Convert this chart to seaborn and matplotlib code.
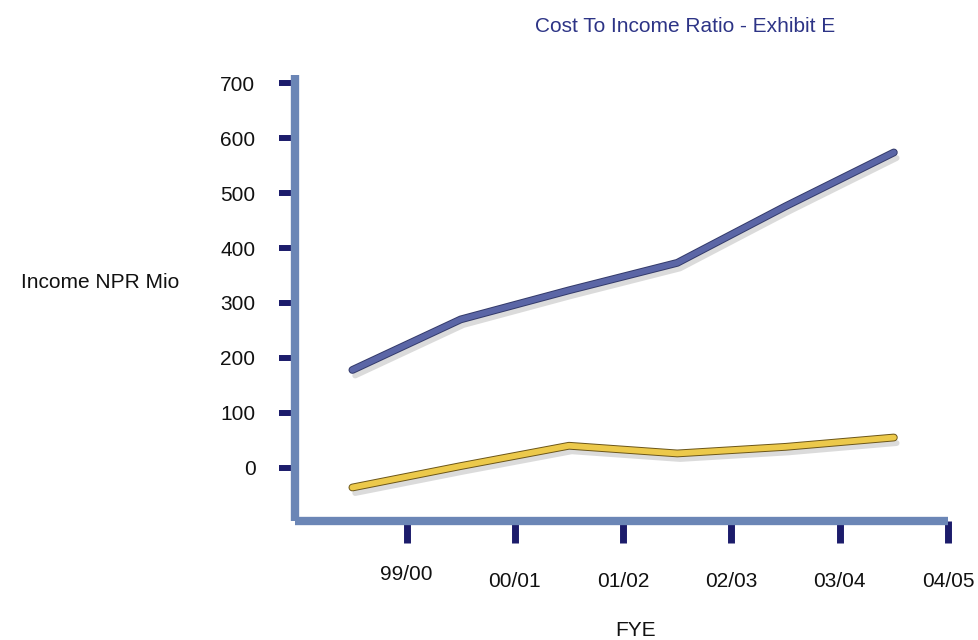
import matplotlib
matplotlib.use("Agg")
import matplotlib.pyplot as plt
import matplotlib.patheffects as pe
import seaborn as sns
import pandas as pd
import numpy as np

# ---- data ----
years = ["99/00", "00/01", "01/02", "02/03", "03/04", "04/05"]
income = [178, 270, 323, 373, 476, 574]
cost_series = [-36, 3, 40, 26, 38, 55]
yticks = [0, 100, 200, 300, 400, 500, 600, 700]

sns.set_theme(style="white")
plt.rcParams['font.family'] = ['Liberation Sans', 'DejaVu Sans']

fig = plt.figure(figsize=(9.79, 6.40), dpi=100)
ax = fig.add_axes([295/979, 1-521/640, (948-295)/979, (521-75)/640])

pos = list(range(len(years)))
df = pd.DataFrame({
    "pos": pos + pos,
    "value": income + cost_series,
    "series": ["Income"] * len(years) + ["Cost"] * len(years),
})

sns.lineplot(data=df, x="pos", y="value", hue="series",
             palette={"Income": "#5b66a6", "Cost": "#ecc94b"},
             linewidth=4.2, legend=False, ax=ax)

edge = {"Income": "#333a6a", "Cost": "#6b5518"}
for line, s in zip(ax.get_lines(), ["Income", "Cost"]):
    line.set_solid_capstyle("round")
    line.set_solid_joinstyle("round")
    line.set_path_effects([
        pe.SimpleLineShadow(offset=(2, -4), shadow_color="#999999", alpha=0.35),
        pe.Stroke(linewidth=5.6, foreground=edge[s]),
        pe.Normal(),
    ])

ax.set_xlim(-0.53, 5.5)
ax.set_ylim(-97, 715)

ax.set_yticks(yticks)
ax.set_yticklabels([str(v) for v in yticks])
ax.set_xticks([p + 0.5 for p in pos])
ax.set_xticklabels(years)

for side in ["top", "right"]:
    ax.spines[side].set_visible(False)
for side in ["left", "bottom"]:
    ax.spines[side].set_color("#6b86b6")
    ax.spines[side].set_linewidth(6)
    ax.spines[side].set_capstyle("butt")

ax.tick_params(axis="y", which="major", direction="out", length=11.5, width=4.3,
               color="#1c1c6b", pad=17, labelsize=15, labelcolor="#111111", left=True)
ax.tick_params(axis="x", which="major", direction="out", length=16, width=5,
               color="#1c1c6b", pad=21, labelsize=15, labelcolor="#111111", bottom=True)

ax.set_xlabel("")
ax.set_ylabel("")
ax.grid(False)

# first label sits slightly higher in the reference
fig.canvas.draw()
ax.get_xticklabels()[0].set_y(0.016)

fig.text(685/979, 1-27/640, "Cost To Income Ratio - Exhibit E", ha="center", va="center",
         fontsize=15, color="#2d3486")
fig.text(21/979, 1-282/640, "Income NPR Mio", ha="left", va="center",
         fontsize=15, color="#111111")
fig.text(636/979, 1-630/640, "FYE", ha="center", va="center",
         fontsize=15, color="#111111")

fig.savefig("out.png", dpi=100, facecolor="white")
